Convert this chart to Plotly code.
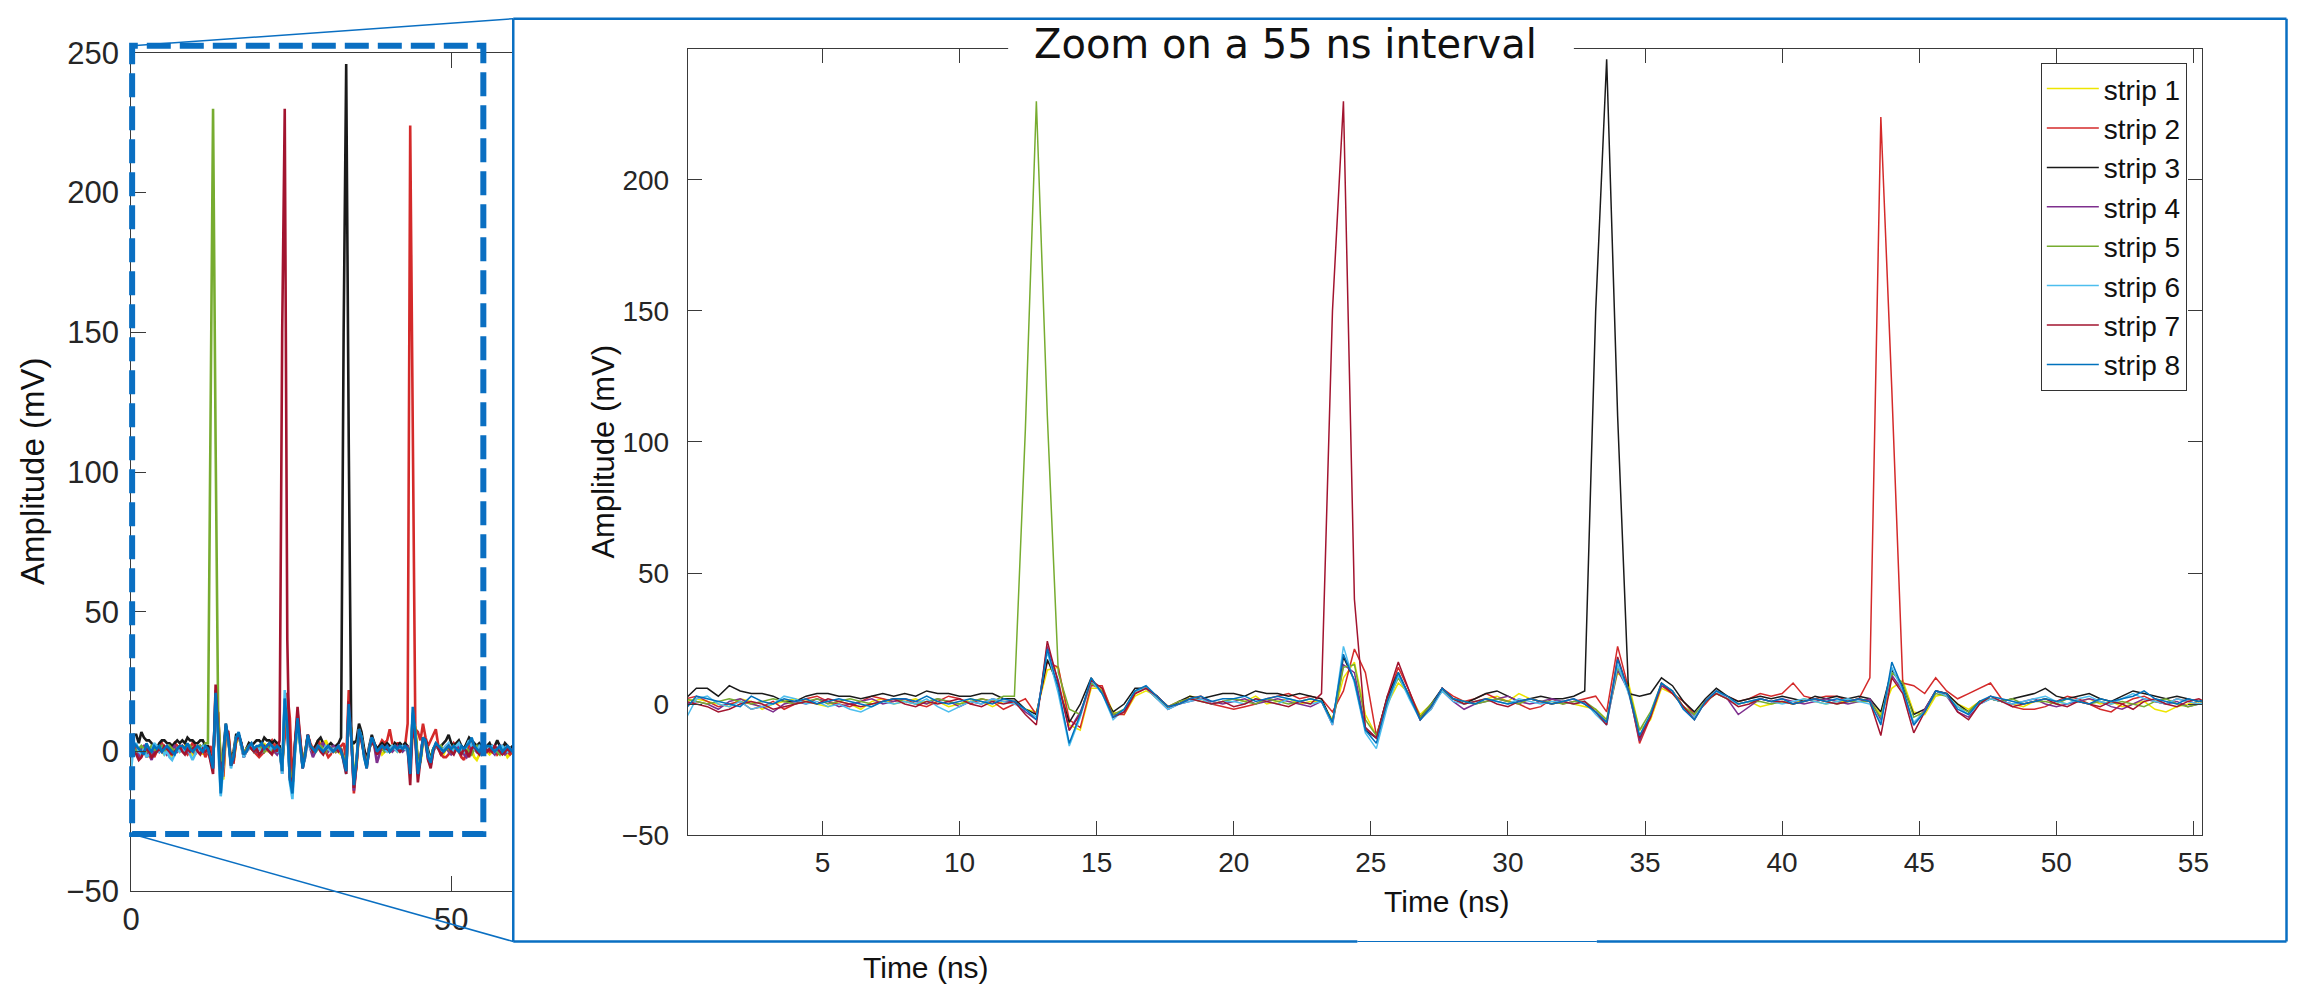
import plotly.graph_objects as go

# ---------------- data ----------------
# sampling grid, 0.4 ns steps (0 .. 59.6 ns)
time_ns = [round(0.4 * i, 1) for i in range(150)]

strip_1 = [1, 2, 1, 0, -1, 2, 1, -2, 0, 1,
           2, 1, 0, -1, 1, 0, -2, 1, 2, 0,
           1, 2, 0, 1, -1, 0, 2, 1, -1, 1,
           1, -2, -3, 13, 14, -8, -10, 6, 6, -3,
           -4, 3, 5, 3, -1, 0, 3, 2, 0, 1,
           2, 1, 3, 0, 1, 2, 0, 1, 1, -6,
           10, 16, -4, -12, 0, 8, 4, -4, 0, 5,
           2, 0, 1, 2, 3, 1, 4, 2, 1, 0,
           1, 0, -1, -2, -6, 12, 8, -10, -6, 6,
           4, -1, -4, 1, 4, 2, 0, 1, -1, 0,
           1, 0, 2, 1, 0, 1, 1, 2, 1, -4,
           6, 9, -3, -4, 3, 4, 0, -2, 1, 2,
           1, 0, -1, 1, 2, 1, 0, 1, 2, 0,
           1, -1, 0, 1, -2, -3, -1, 0, 1, 0,
           -1, 0, 1, -1, 0, 1, 0, -2, -1, 0]

strip_2 = [2, 3, 1, -1, 0, 1, -2, -1, 1, -2,
           0, 2, 3, 1, 0, -1, 1, 3, 2, 1,
           2, 0, -1, 1, 3, 2, 0, 2, 1, -2,
           0, 2, -4, 16, 14, -6, -9, 7, 7, -4,
           -4, 4, 6, 3, -1, 1, 2, 3, 0, -1,
           -2, -1, 0, 2, 3, 4, 2, 3, 2, -3,
           5, 21, 12, -12, 2, 14, 5, -5, -2, 6,
           3, 1, 2, 4, 2, 1, 0, -2, -1, 2,
           0, 1, 2, 3, -3, 22, 6, -15, -5, 7,
           4, 1, -4, 0, 5, 3, 1, 2, 4, 3,
           4, 8, 3, 2, 3, 3, 1, 2, 10, 224,
           120, 8, 7, 4, 10, 5, 2, 4, 6, 8,
           2, -1, -2, -2, -1, 1, 3, 2, 0, -2,
           -3, 0, 2, 3, 1, 0, 2, 1, 0, 1,
           0, 2, 1, -1, 0, 2, 1, 0, -1, 0]

strip_3 = [2, 6, 6, 3, 7, 5, 4, 4, 3, 1,
           1, 3, 4, 4, 3, 3, 2, 3, 4, 3,
           4, 3, 5, 4, 4, 3, 3, 4, 4, 2,
           2, -2, -4, 17, 7, -7, 0, 10, 4, -3,
           0, 6, 6, 3, -2, 1, 3, 2, 3, 4,
           4, 3, 5, 4, 4, 3, 4, 3, 2, -7,
           18, 9, -10, -13, 3, 12, 3, -5, 0, 6,
           2, 0, 2, 4, 5, 3, 1, 2, 3, 2,
           2, 3, 5, 150, 246, 110, 4, 3, 4, 10,
           7, 1, -3, 2, 6, 3, 1, 2, 3, 2,
           3, 2, 1, 3, 2, 3, 2, 3, 2, -3,
           13, 7, -4, -2, 5, 4, 0, -3, 1, 2,
           1, 2, 3, 4, 6, 3, 2, 3, 4, 2,
           1, 3, 5, 4, 3, 2, 3, 2, 1, 2,
           3, 1, 2, 4, 2, 1, 3, 2, 1, 2]

strip_4 = [0, 1, 0, -2, 1, 2, 0, -1, -3, 0,
           1, 0, 2, 1, -1, 0, 1, 2, 0, 1,
           2, 1, 0, 2, 1, -1, 1, 0, 2, 1,
           1, -3, -6, 22, 9, -10, -3, 8, 5, -5,
           -3, 5, 6, 2, -2, 0, 1, 2, 1, 0,
           1, 2, 0, 1, 2, 1, 0, -1, 1, -8,
           15, 12, -9, -13, 1, 11, 3, -6, -1, 5,
           1, -2, 0, 1, 2, 3, 1, 0, 1, 2,
           1, 2, 0, -3, -7, 13, 5, -14, -4, 7,
           5, -1, -5, 1, 5, 2, -4, -1, 2, 1,
           2, 1, 0, 1, 2, 1, 0, 1, 2, -6,
           11, 5, -8, -2, 5, 3, -3, -5, 0, 2,
           1, 0, 1, 2, 0, -1, 0, 1, 2, 1,
           -1, -2, 0, 2, 1, 0, 1, -1, 0, 1,
           1, 0, -1, 1, 2, 0, -1, 0, 1, 0]

strip_5 = [2, 1, 0, 1, 2, 1, 0, 1, 2, 1,
           0, 1, 2, 0, 1, 2, 1, 0, 1, 2,
           1, 0, 1, 2, 1, 0, 1, 2, 1, 3,
           3, 105, 230, 110, 12, -2, -4, 8, 5, -4,
           -2, 5, 6, 2, -1, 1, 2, 1, 0, 1,
           2, 1, 0, 2, 1, 0, 1, 2, 1, -7,
           14, 15, -6, -12, 1, 10, 3, -5, 0, 5,
           2, 1, 0, 1, 2, 1, 0, 2, 1, 1,
           0, 1, 1, -2, -6, 14, 6, -10, -3, 8,
           5, -1, -4, 1, 4, 2, 0, 1, 1, 0,
           1, 0, 1, 2, 1, 0, 1, 1, 1, -5,
           12, 8, -5, -3, 4, 3, -1, -3, 1, 2,
           1, 2, 0, 1, 1, 0, 2, 1, 0, 1,
           0, 1, 0, -1, 1, 2, 0, -1, 0, 1,
           1, 0, 1, 0, -1, 1, 0, 1, 0, 1]

strip_6 = [-6, 2, 3, 0, -1, 1, -2, -1, 0, 3,
           2, 0, 1, -1, 0, -2, -3, -1, 1, 0,
           1, 0, 2, -1, -3, -1, 1, 0, 2, 1,
           0, -2, -5, 20, 4, -16, -5, 9, 4, -6,
           -2, 5, 6, 2, -2, 0, 1, 2, 0, 1,
           1, 0, 2, 1, 0, 2, 1, 0, 1, -8,
           22, 8, -11, -17, -1, 11, 2, -6, -2, 5,
           1, 0, 1, 2, 1, 0, 2, 1, 0, 1,
           1, 0, 1, -4, -8, 15, 4, -12, -4, 8,
           5, -2, -5, 1, 5, 2, 0, 1, 2, 1,
           0, 1, 2, 1, 0, 1, 2, 1, 0, -7,
           14, 5, -7, -3, 5, 3, -1, -4, 0, 2,
           1, 0, 1, 2, 3, 1, 0, 2, 3, 1,
           0, 2, 4, 2, 1, 0, 2, 1, 0, 1,
           1, 2, 0, 1, 0, 2, 1, 0, 1, 0]

strip_7 = [1, 0, -1, -3, -2, 0, 1, 0, -2, -1,
           0, 1, 0, 2, 1, 0, -1, 0, 1, 2,
           0, -1, 1, 0, 1, 2, 0, -1, 1, 0,
           1, -4, -8, 24, 8, -10, -4, 9, 6, -5,
           -3, 4, 6, 3, -1, 0, 2, 1, 0, 1,
           -1, 0, 2, 1, 0, -1, 1, 0, 4, 150,
           230, 40, -9, -13, 3, 16, 5, -6, -1, 6,
           2, 0, 1, 2, 0, -1, 1, 2, 1, 0,
           1, 0, 1, -3, -8, 18, 5, -13, -5, 8,
           4, -1, -6, 1, 4, 2, -1, 0, 2, 1,
           1, 0, 1, 2, 1, 0, 1, 2, 1, -12,
           10, 4, -11, -3, 5, 4, -3, -6, 0, 3,
           1, -1, 0, 1, 2, 0, -1, 1, 0, -1,
           1, 0, -2, 1, 2, 0, -1, 1, 2, 0,
           1, 0, 2, 1, 0, -1, 0, 1, 0, 1]

strip_8 = [-2, 3, 2, 1, 0, -1, 3, 1, 0, 2,
           1, 2, 0, 1, 2, 1, 0, -1, 1, 2,
           2, 1, 3, 1, 0, 1, 2, 1, 0, 2,
           1, -2, -6, 21, 6, -15, -4, 10, 4, -5,
           -2, 5, 7, 3, -1, 0, 2, 3, 1, 2,
           2, 3, 1, 2, 3, 2, 1, 2, 1, -7,
           19, 9, -10, -15, 1, 12, 3, -6, -1, 6,
           2, 1, 0, 2, 1, 0, 1, 2, 1, 0,
           1, 2, 0, -3, -7, 17, 5, -12, -4, 8,
           5, -2, -6, 1, 5, 3, 0, 1, 2, 1,
           2, 0, 1, 2, 1, 2, 1, 2, 1, -8,
           16, 6, -8, -3, 5, 4, -2, -4, 1, 3,
           2, 1, 0, 1, 2, 1, 2, 1, 0, 2,
           1, 2, 3, 5, 2, 1, 0, 2, 1, 2,
           2, 1, 0, 1, 2, 0, 1, 2, 1, 0]

strips = [strip_1, strip_2, strip_3, strip_4, strip_5, strip_6, strip_7, strip_8]
strip_names = ["strip 1", "strip 2", "strip 3", "strip 4",
               "strip 5", "strip 6", "strip 7", "strip 8"]
strip_colors = ["#EDE500", "#D42A2A", "#1A1A1A", "#7E2F8E",
                "#77AC30", "#4DBEEE", "#A2142F", "#0072BD"]

left_yticks = [-50, 0, 50, 100, 150, 200, 250]
left_xticks = [0, 50]
right_yticks = [-50, 0, 50, 100, 150, 200]
right_xticks = [5, 10, 15, 20, 25, 30, 35, 40, 45, 50, 55]

# ---------------- layout helpers ----------------
# Figure size and a mapping from target picture pixels to figure pixels
# (compensates the page offset / scaling observed in the capture).
W, H = 2294, 1000
X_OFF, X_SCALE = 8.6, 0.9957
Y_OFF, Y_SCALE = 18, 986 / 1026


def px(x):
    return min((x - X_OFF) / X_SCALE, W - 1.5) / W


def py(y):
    return 1 - (y / Y_SCALE - Y_OFF) / H


BLUE = "#0A6FC2"
AXC = "#3A3A3A"
TICKF = "Liberation Sans, Arial, Helvetica, sans-serif"

fig = go.Figure()

# left (overview) panel
for vals, name, col in zip(strips, strip_names, strip_colors):
    fig.add_trace(go.Scatter(x=time_ns, y=vals, mode="lines", name=name,
                             line=dict(color=col, width=2.6),
                             xaxis="x", yaxis="y", showlegend=False,
                             hoverinfo="skip"))

# right (zoomed) panel
for vals, name, col in zip(strips, strip_names, strip_colors):
    fig.add_trace(go.Scatter(x=time_ns, y=vals, mode="lines", name=name,
                             line=dict(color=col, width=1.5),
                             xaxis="x2", yaxis="y2"))

fig.update_layout(
    width=W, height=H, autosize=False,
    margin=dict(l=0, r=0, t=0, b=0),
    paper_bgcolor="white", plot_bgcolor="white",
    xaxis=dict(domain=[px(131), px(514)], range=[0, 59.7],
               tickvals=left_xticks, ticks="inside", ticklen=15,
               tickcolor=AXC, showline=True, linecolor=AXC, linewidth=1,
               mirror="ticks", showgrid=False, zeroline=False,
               tickfont=dict(family=TICKF, size=31, color="#262626"),
               ticklabelstandoff=0, anchor="y"),
    yaxis=dict(domain=[py(888), py(53)], range=[-50, 250],
               tickvals=left_yticks, ticks="inside", ticklen=15,
               tickcolor=AXC, showline=True, linecolor=AXC, linewidth=1,
               mirror=False, showgrid=False, zeroline=False,
               tickfont=dict(family=TICKF, size=31, color="#262626"),
               ticklabelstandoff=5, anchor="x"),
    xaxis2=dict(domain=[px(689), px(2207)], range=[0.09, 55.33],
                tickvals=right_xticks, ticks="inside", ticklen=14,
                tickcolor=AXC, showline=True, linecolor=AXC, linewidth=1.2,
                mirror="ticks", showgrid=False, zeroline=False,
                tickfont=dict(family=TICKF, size=28, color="#262626"),
                ticklabelstandoff=2, anchor="y2"),
    yaxis2=dict(domain=[py(832), py(49)], range=[-50, 250],
                tickvals=right_yticks, ticks="inside", ticklen=14,
                tickcolor=AXC, showline=True, linecolor=AXC, linewidth=1.2,
                mirror="ticks", showgrid=False, zeroline=False,
                tickfont=dict(family=TICKF, size=28, color="#262626"),
                ticklabelstandoff=12, anchor="x2"),
    legend=dict(x=px(2045), y=py(63), xanchor="left", yanchor="top",
                bgcolor="white", bordercolor="#333333", borderwidth=1,
                font=dict(family=TICKF, size=28, color="#111111"),
                tracegroupgap=0, itemwidth=52),
    showlegend=True,
)

TOP_Y = 19  # highest reachable line position for the frame

shapes = []
# dashed zoom window on the overview panel
shapes.append(dict(type="rect", xref="paper", yref="paper",
                   x0=px(132), x1=px(484), y0=py(831), y1=py(46),
                   line=dict(color=BLUE, width=6, dash="24px,9px")))
# connecting lines
shapes.append(dict(type="line", xref="paper", yref="paper",
                   x0=px(132), y0=py(46), x1=px(514), y1=py(TOP_Y),
                   line=dict(color=BLUE, width=1.5)))
shapes.append(dict(type="line", xref="paper", yref="paper",
                   x0=px(132), y0=py(831), x1=px(514), y1=py(938),
                   line=dict(color=BLUE, width=1.5)))
# zoom panel frame
for (x0, y0, x1, y1, w) in [(514, TOP_Y, 2298, TOP_Y, 2.5),
                            (514, TOP_Y, 514, 938, 2.5),
                            (2298, TOP_Y, 2298, 938, 2.5),
                            (514, 938, 1360, 938, 2.5),
                            (1360, 938, 1600, 938, 1.2),
                            (1600, 938, 2298, 938, 2.5)]:
    shapes.append(dict(type="line", xref="paper", yref="paper",
                       x0=px(x0), y0=py(y0), x1=px(x1), y1=py(y1),
                       line=dict(color=BLUE, width=w)))
# white box behind the zoom title
shapes.append(dict(type="rect", xref="paper", yref="paper",
                   x0=px(1010), x1=px(1577), y0=py(76), y1=py(24),
                   fillcolor="white", line=dict(width=0)))
fig.update_layout(shapes=shapes)

LABF = "Liberation Sans, Arial, Helvetica, sans-serif"
annotations = [
    dict(text="Zoom on a 55 ns interval", x=px(1288), y=py(44),
         xref="paper", yref="paper", showarrow=False,
         xanchor="center", yanchor="middle",
         font=dict(family="DejaVu Sans, sans-serif", size=40, color="#111111")),
    dict(text="Time (ns)", x=px(1450), y=py(898), xref="paper", yref="paper",
         showarrow=False, xanchor="center", yanchor="middle",
         font=dict(family=LABF, size=30, color="#111111")),
    dict(text="Time (ns)", x=px(928), y=py(964), xref="paper", yref="paper",
         showarrow=False, xanchor="center", yanchor="middle",
         font=dict(family=LABF, size=30, color="#111111")),
    dict(text="Amplitude (mV)", x=px(604), y=py(450), xref="paper",
         yref="paper", showarrow=False, textangle=-90,
         xanchor="center", yanchor="middle",
         font=dict(family=LABF, size=31, color="#111111")),
    dict(text="Amplitude (mV)", x=px(32), y=py(470), xref="paper",
         yref="paper", showarrow=False, textangle=-90,
         xanchor="center", yanchor="middle",
         font=dict(family=LABF, size=33, color="#111111")),
]
fig.update_layout(annotations=annotations)

fig.write_html("out.html")
